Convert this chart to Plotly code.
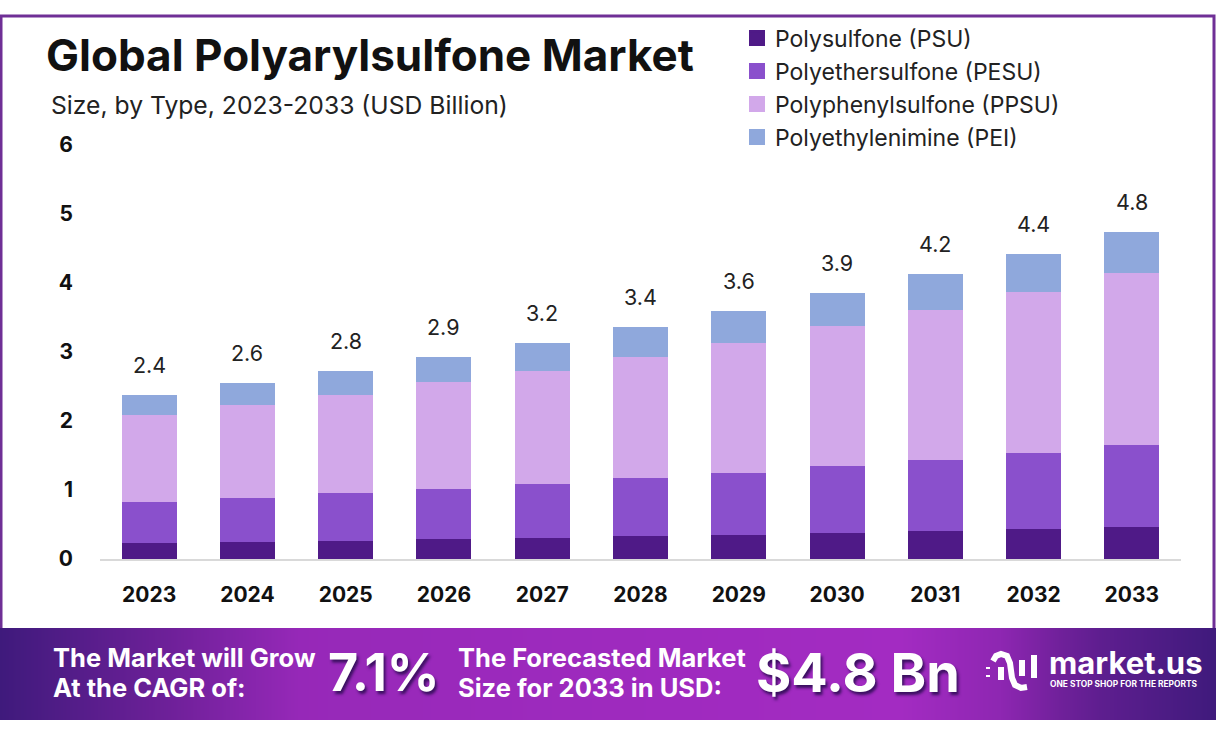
import plotly.graph_objects as go

W, H = 1216, 737

years = ["2023", "2024", "2025", "2026", "2027", "2028", "2029", "2030", "2031", "2032", "2033"]
psu = [0.23, 0.25, 0.26, 0.29, 0.30, 0.33, 0.35, 0.38, 0.41, 0.44, 0.46]
pesu = [0.60, 0.63, 0.70, 0.72, 0.79, 0.84, 0.90, 0.97, 1.02, 1.10, 1.19]
ppsu = [1.26, 1.35, 1.42, 1.56, 1.63, 1.76, 1.88, 2.03, 2.18, 2.33, 2.49]
pei = [0.29, 0.32, 0.34, 0.36, 0.41, 0.43, 0.46, 0.48, 0.52, 0.55, 0.60]
totals = ["2.4", "2.6", "2.8", "2.9", "3.2", "3.4", "3.6", "3.9", "4.2", "4.4", "4.8"]

series_names = ["Polysulfone (PSU)", "Polyethersulfone (PESU)", "Polyphenylsulfone (PPSU)", "Polyethylenimine (PEI)"]
series_colors = ["#4f1a87", "#8a50cc", "#d2a8ea", "#8fa8dc"]

# banner gradient
band_x = [0, 100, 300, 600, 900, 1000, 1100, 1216]
band_z = [0.0, 0.3, 0.88, 0.95, 1.0, 0.8, 0.33, 0.0]


# pixel position in the reference -> paper fraction
def fx(x):
    return x / W


def fy(y):
    return 1 - y / H


def label(x, y, text, size, color="#111111", bold=False, anchor="left", family="Inter", shadow=None):
    font = dict(family=family, size=size, color=color, weight=700 if bold else 400)
    if shadow:
        font["shadow"] = shadow
    return dict(xref="paper", yref="paper", x=fx(x), y=fy(y), text=text, showarrow=False,
                xanchor=anchor, yanchor="middle", font=font)


def stroke(path, width):
    return dict(type="path", xref="paper", yref="paper", path=path,
                line=dict(color="white", width=width), layer="above")


def logo_path(points):
    return "M " + " L ".join(f"{fx(x):.5f} {fy(y):.5f}" for x, y in points)


fig = go.Figure()

fig.add_trace(go.Heatmap(x=band_x, y=[0, 1], z=[band_z, band_z], xaxis="x2", yaxis="y2",
                         zmin=0, zmax=1, zsmooth="best", showscale=False, hoverinfo="skip",
                         colorscale=[[0, "#3f1a7c"], [0.5, "#6e2099"], [1, "#a32bc2"]]))

for name, vals, col in zip(series_names, [psu, pesu, ppsu, pei], series_colors):
    fig.add_trace(go.Bar(name=name, x=years, y=vals, marker=dict(color=col, line=dict(width=0)),
                         legendgroup=name))

stack_tops = [a + b + c + d for a, b, c, d in zip(psu, pesu, ppsu, pei)]

notes = [
    label(44, 55, "Global Polyarylsulfone Market", 44, bold=True),
    label(49, 105, "Size, by Type, 2023-2033 (USD Billion)", 24.7, color="#222222"),
    label(51, 657, "The Market will Grow", 25.5, color="white", bold=True),
    label(51, 687, "At the CAGR of:", 25.5, color="white", bold=True),
    label(384, 672, "7.1%", 52, color="white", bold=True, anchor="center", shadow="2px 3px 3px #3a1060"),
    label(456, 657, "The Forecasted Market", 25.5, color="white", bold=True),
    label(456, 687, "Size for 2033 in USD:", 25.5, color="white", bold=True),
    label(858, 672, "$4.8 Bn", 54, color="white", bold=True, anchor="center", shadow="2px 3px 3px #3a1060"),
    label(1047, 662, "market.us", 31, color="white", bold=True),
    label(1048, 684, "ONE STOP SHOP FOR THE REPORTS", 8.4, color="white", bold=True),
]
# "2023" on a category axis would read as a position, so use the index
for i, (top, txt) in enumerate(zip(stack_tops, totals)):
    notes.append(dict(xref="x", yref="y", x=i, y=top, yshift=30, text=txt, showarrow=False,
                      font=dict(family="Inter", size=21.5, color="#222222")))

shapes = [
    dict(type="rect", xref="paper", yref="paper", x0=fx(1), x1=fx(1214), y0=fy(630), y1=fy(16),
         line=dict(color="#6f2f96", width=3), layer="below"),
    stroke(logo_path([(993, 661), (996, 656), (1001, 654), (1007, 656), (1010, 663), (1012, 678),
                      (1015, 685), (1021, 688), (1027, 687)]), 6),
    stroke(logo_path([(1001, 667), (1001, 680)]), 6),
    stroke(logo_path([(1022, 660), (1022, 676)]), 6),
    stroke(logo_path([(1034, 655), (1034, 678)]), 6),
    stroke(logo_path([(988, 667), (988, 669)]), 4),
    stroke(logo_path([(988, 675), (988, 677)]), 4),
]
# legend swatches are bigger in the reference than plotly's 12px ones
for col, yc in zip(series_colors, [38, 71, 104, 137]):
    shapes.append(dict(type="rect", xref="paper", yref="paper", x0=fx(749), x1=fx(765),
                       y0=fy(yc + 8), y1=fy(yc - 8), fillcolor=col, line=dict(width=0), layer="below"))

fig.update_layout(
    width=W, height=H,
    margin=dict(l=0, r=0, t=0, b=0, autoexpand=False),
    paper_bgcolor="white", plot_bgcolor="rgba(0,0,0,0)",
    barmode="stack", bargap=0.44,
    annotations=notes, shapes=shapes,
    legend=dict(x=fx(735), y=fy(17), xanchor="left", yanchor="top", orientation="v",
                traceorder="normal", tracegroupgap=5, bgcolor="rgba(0,0,0,0)",
                font=dict(family="Inter", size=23, color="#222222")),
    xaxis=dict(domain=[fx(100), fx(1181)], range=[-0.5, 10.5], type="category", anchor="y",
               showgrid=False, showline=True, linecolor="#d9d9d9", linewidth=2, ticks="",
               ticklabelstandoff=16, tickfont=dict(family="Inter", size=21, color="#111111", weight=700)),
    yaxis=dict(domain=[fy(559), fy(145)], range=[0, 6], dtick=1, anchor="x", showgrid=False,
               zeroline=False, showline=False, ticks="", ticklabelstandoff=26,
               tickfont=dict(family="Inter", size=21, color="#111111", weight=700)),
    xaxis2=dict(domain=[0, 1], range=[0, W], visible=False, anchor="y2"),
    yaxis2=dict(domain=[fy(720), fy(628)], range=[0, 1], visible=False, anchor="x2"),
)

fig.write_html("out.html", post_script="document.body.style.margin='0';document.body.style.overflow='hidden';",
               config=dict(displayModeBar=False))
